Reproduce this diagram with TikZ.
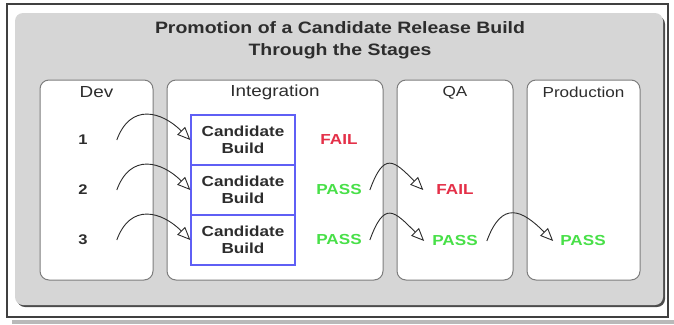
\documentclass[tikz,border=0pt]{standalone}
\usepackage{fontspec}
\setmainfont[FakeStretch=1.18]{Liberation Sans}
\usetikzlibrary{shapes,arrows.meta}
\definecolor{panelgray}{RGB}{214,214,214}
\definecolor{edgegray}{RGB}{125,125,125}
\definecolor{buildblue}{RGB}{95,95,245}
\definecolor{failred}{RGB}{228,48,72}
\definecolor{passgreen}{RGB}{72,224,72}
\definecolor{inkgray}{RGB}{45,45,45}
\tikzset{%
  stage/.style   = {draw=edgegray, fill=white, rounded corners=9pt,
    line width=1pt, minimum height=200pt},
  header/.style  = {text=inkgray, font=\fontsize{16}{18}\selectfont}, % stage name
  build/.style   = {rectangle, draw=buildblue, fill=white, line width=1.3pt,
    minimum width=104pt, minimum height=50pt, align=center,
    text=inkgray, font=\bfseries\fontsize{14.5}{17}\selectfont},
  rownum/.style  = {inner sep=0pt, text=inkgray,
    font=\bfseries\fontsize{14}{16}\selectfont},
  fail/.style    = {inner sep=0pt, text=failred,
    font=\bfseries\fontsize{14.5}{16}\selectfont},
  pass/.style    = {inner sep=0pt, text=passgreen,
    font=\bfseries\fontsize{14.5}{16}\selectfont},
  hop/.style     = {->, draw=inkgray, line width=0.9pt}
}
\begin{document}
\begin{tikzpicture}[x=1pt, y=-1pt, >={Triangle[open,length=13pt,width=11pt]}]
\useasboundingbox (0,0) rectangle (674,324);
% frame and panel
\draw[line width=1.2pt, black!75] (7,4) rectangle (668,317);
\fill[gray!55] (12,319.5) rectangle (674,324);
\fill[black!70, rounded corners=8pt] (17,16) rectangle (665,307);
\fill[panelgray, rounded corners=8pt] (15,13) rectangle (663,305);
\node[align=center, text=inkgray, font=\bfseries\fontsize{16.5}{22}\selectfont]
  (title) at (340,40) {Promotion of a Candidate Release Build\\Through the Stages};
% stages
\node[stage, minimum width=113pt] (dev)   at (96.5,180) {};
\node[stage, minimum width=216pt] (integ) at (275,180) {};
\node[stage, minimum width=116pt] (qa)    at (455,180) {};
\node[stage, minimum width=113pt] (prod)  at (583.5,180) {};
\node[header] (devname)   at ([yshift=-13pt]dev.north)   {Dev};
\node[header] (integname) at ([yshift=-13pt]integ.north) {Integration};
\node[header, font=\fontsize{14.5}{16}\selectfont] (qaname)   at ([yshift=-13pt]qa.north)   {QA};
\node[header, font=\fontsize{14.5}{16}\selectfont] (prodname) at ([yshift=-13pt]prod.north) {Production};
% builds
\node[rownum] (n1) at (83,140) {1};
\node[rownum] (n2) at (83,190) {2};
\node[rownum] (n3) at (83,240) {3};
\node[build] (cb1) at (243,140) {Candidate\\Build};
\node[build] (cb2) at (243,190) {Candidate\\Build};
\node[build] (cb3) at (243,240) {Candidate\\Build};
% results
\node[fail] (if1) at (339,140) {FAIL};
\node[pass] (ip2) at (339,190) {PASS};
\node[pass] (ip3) at (339,240) {PASS};
\node[fail] (qf2) at (455,190) {FAIL};
\node[pass] (qp3) at (455,241) {PASS};
\node[pass] (pp3) at (583,241) {PASS};
% promotions
\draw[hop] ([xshift=29pt]n1.east) to[out=70, in=135, looseness=1.4] (cb1.west);
\draw[hop] ([xshift=29pt]n2.east) to[out=70, in=135, looseness=1.4] (cb2.west);
\draw[hop] ([xshift=29pt]n3.east) to[out=70, in=135, looseness=1.4] (cb3.west);
\draw[hop] ([xshift=8pt]ip2.east) to[out=70, in=135, looseness=2] ([xshift=-13pt]qf2.west);
\draw[hop] ([xshift=8pt]ip3.east) to[out=70, in=135, looseness=2] ([xshift=-8pt]qp3.west);
\draw[hop] ([xshift=9pt]qp3.east) to[out=70, in=135, looseness=1.7] ([xshift=-7pt]pp3.west);
\end{tikzpicture}
\end{document}
